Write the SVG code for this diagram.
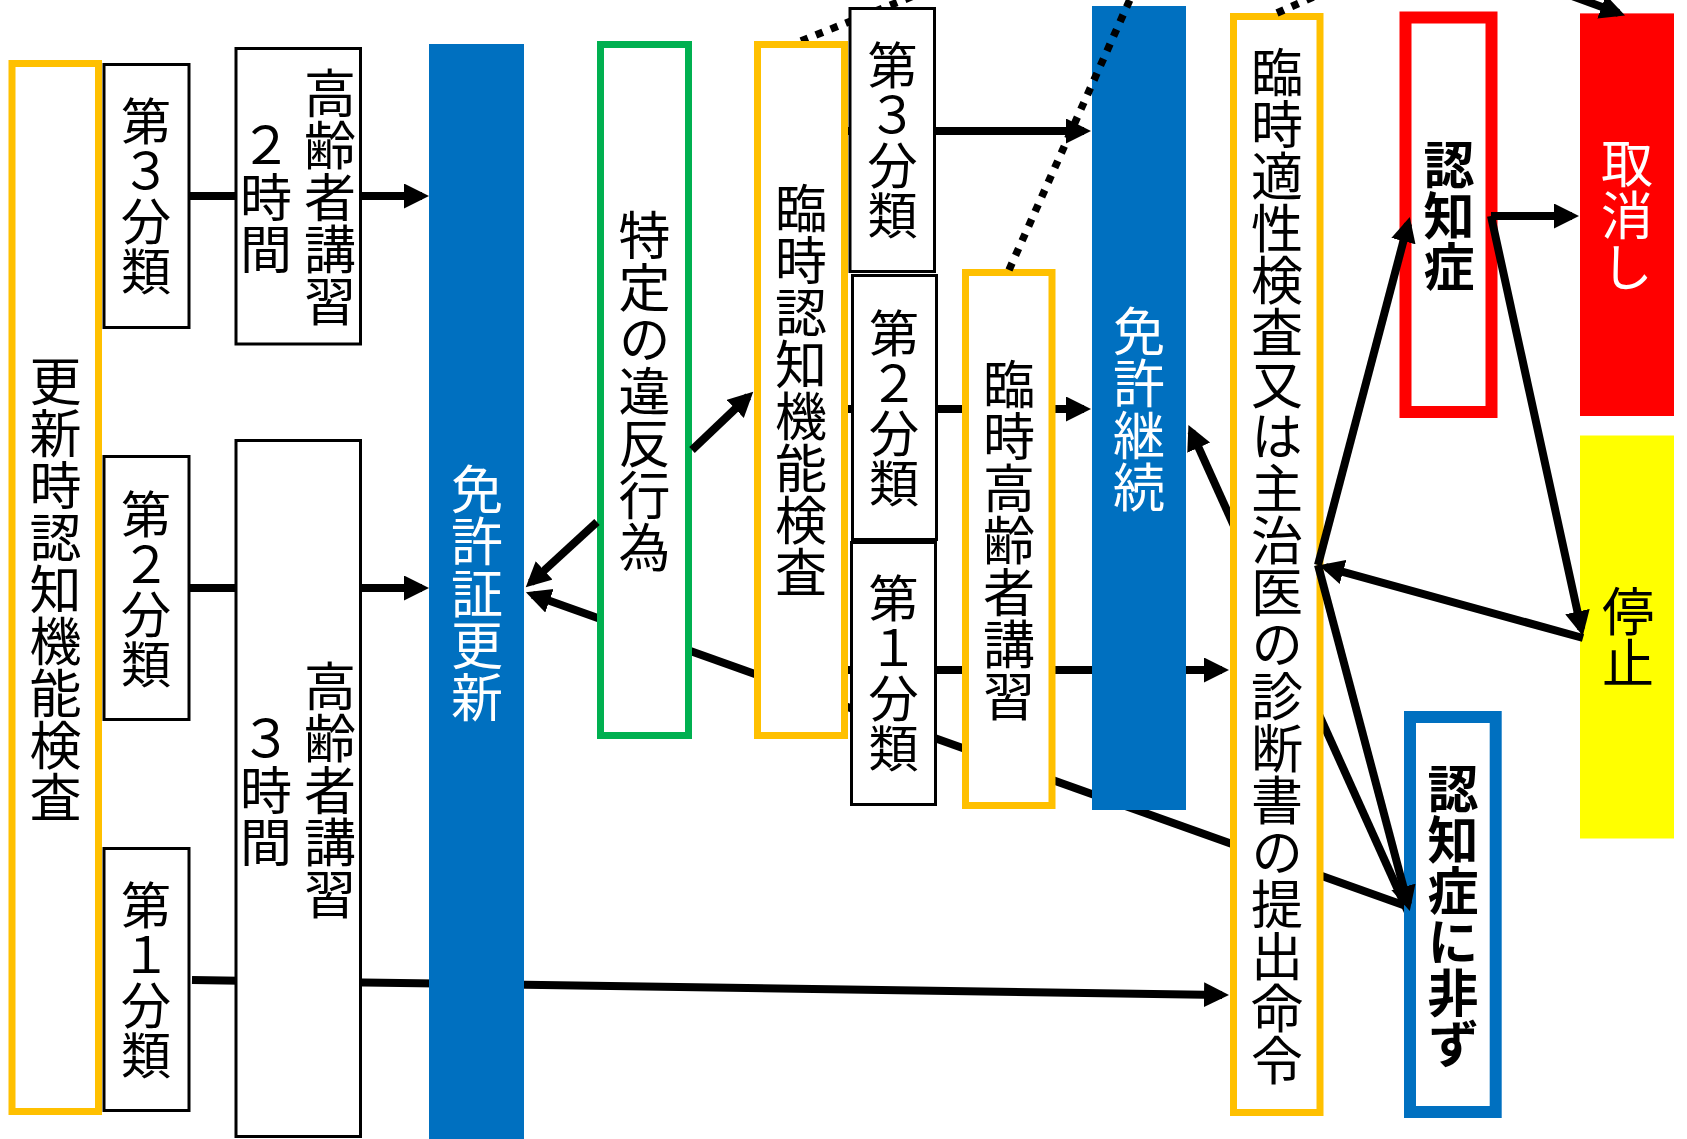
<svg xmlns="http://www.w3.org/2000/svg" width="1687" height="1139" viewBox="0 0 1687 1139">
<style>
.v{writing-mode:vertical-rl;text-orientation:upright;text-anchor:middle;font-family:"Noto Sans CJK JP","Noto Sans CJK SC",sans-serif;font-size:52px;fill:#000}
.b{font-weight:bold;font-size:51px}
.w{fill:#fff}
.s{font-size:50px}
.bk{fill:#fff;stroke:#000;stroke-width:3}
.yl{fill:#fff;stroke:#FFC000;stroke-width:7}
.gr{fill:#fff;stroke:#00B050;stroke-width:7}
.ln{fill:none;stroke:#000;stroke-width:8}
.dt{fill:none;stroke:#000;stroke-width:7.5;stroke-dasharray:7.5 8.5}
</style>
<defs>
<marker id="ah" markerUnits="userSpaceOnUse" markerWidth="26" markerHeight="26" viewBox="0 0 26 26" refX="18" refY="12.5" orient="auto"><path d="M0,0 L25,12.5 L0,25 z" fill="#000"/></marker>
</defs>
<rect width="1687" height="1139" fill="#fff"/>

<g id="connectors-back">
<line class="ln" x1="190" y1="196" x2="422" y2="196" marker-end="url(#ah)"/>
<line class="ln" x1="190" y1="588" x2="422" y2="588" marker-end="url(#ah)"/>
<line class="ln" x1="192" y1="980" x2="1222" y2="994.9" marker-end="url(#ah)"/>
<line class="ln" x1="1406" y1="906" x2="532.5" y2="594.7" marker-end="url(#ah)"/>
<line class="ln" x1="846" y1="131" x2="1084" y2="131" marker-end="url(#ah)"/>
<line class="ln" x1="846" y1="409" x2="1084" y2="409" marker-end="url(#ah)"/>
<line class="ln" x1="846" y1="670" x2="1222" y2="670" marker-end="url(#ah)"/>
<line class="ln" x1="1408" y1="912" x2="1191.3" y2="431.3" marker-end="url(#ah)"/>
<line class="dt" x1="801" y1="41" x2="916" y2="-5"/>
</g>

<g id="n-koushin">
<rect class="yl" x="12" y="63.5" width="86.5" height="1048"/>
<text class="v" x="55.5" y="589">更新時認知機能検査</text>
</g>
<g id="n-l3">
<rect class="bk" x="104" y="64.5" width="85" height="263"/>
<text class="v s" x="146" y="196">第３分類</text>
</g>
<g id="n-l2">
<rect class="bk" x="104" y="456.5" width="85" height="263"/>
<text class="v s" x="146" y="589">第２分類</text>
</g>
<g id="n-l1">
<rect class="bk" x="104" y="848.5" width="85" height="262"/>
<text class="v s" x="146" y="980">第１分類</text>
</g>
<g id="n-kosyu2">
<rect class="bk" x="236" y="48.5" width="124.5" height="295.5"/>
<text class="v" x="330" y="197">高齢者講習</text>
<text class="v" x="266" y="197">２時間</text>
</g>
<g id="n-kosyu3">
<rect class="bk" x="236" y="440.5" width="124.5" height="696"/>
<text class="v" x="330" y="790">高齢者講習</text>
<text class="v" x="266" y="790">３時間</text>
</g>
<g id="n-koushin-menkyo">
<rect x="429" y="44" width="95" height="1095" fill="#0070C0"/>
<text class="v w" x="477" y="593">免許証更新</text>
</g>
<g id="n-ihan">
<rect class="gr" x="600.5" y="44.5" width="88" height="691"/>
<text class="v" x="644.5" y="391">特定の違反行為</text>
</g>
<g id="n-rinji-ninchi">
<rect class="yl" x="757.5" y="44.5" width="87" height="691"/>
<text class="v" x="801" y="390">臨時認知機能検査</text>
</g>
<g id="n-m3">
<rect class="bk" x="850" y="8.5" width="84.5" height="263"/>
<text class="v s" x="892.5" y="140">第３分類</text>
</g>
<g id="n-m2">
<rect class="bk" x="852.5" y="275.5" width="84" height="264"/>
<text class="v s" x="894" y="408">第２分類</text>
</g>
<g id="n-m1">
<rect class="bk" x="851.5" y="542.5" width="84" height="262"/>
<text class="v s" x="893.5" y="673">第１分類</text>
</g>
<g id="n-rinji-kosyu">
<rect class="yl" x="965.5" y="272.5" width="86.5" height="533"/>
<text class="v" x="1009" y="540">臨時高齢者講習</text>
</g>
<g id="n-keizoku">
<rect x="1092" y="6" width="94" height="804" fill="#0070C0"/>
<text class="v w" x="1139" y="409">免許継続</text>
</g>
<g id="n-tekisei">
<rect class="yl" x="1233.5" y="16.5" width="86.5" height="1096"/>
<text class="v" x="1277" y="566">臨時適性検査又は主治医の診断書の提出命令</text>
</g>
<g id="n-ninchisho">
<rect x="1405.5" y="17.5" width="86" height="394.5" fill="#fff" stroke="#FF0000" stroke-width="12"/>
<text class="v b" x="1449" y="216">認知症</text>
</g>
<g id="n-hizu">
<rect x="1410" y="717" width="85.7" height="395" fill="#fff" stroke="#0070C0" stroke-width="12"/>
<text class="v b" x="1453" y="916">認知症に非ず</text>
</g>
<g id="n-torikeshi">
<rect x="1580" y="13.4" width="94" height="402.6" fill="#FF0000"/>
<text class="v w" x="1627" y="215">取消し</text>
</g>
<g id="n-teishi">
<rect x="1580" y="435.5" width="94" height="403" fill="#FFFF00"/>
<text class="v" x="1628" y="637">停止</text>
</g>

<g id="connectors-front">
<line class="ln" x1="597" y1="522" x2="530.9" y2="582.6" marker-end="url(#ah)"/>
<line class="ln" x1="692" y1="450" x2="748.2" y2="396.5" marker-end="url(#ah)"/>
<line class="ln" x1="1318" y1="565" x2="1408" y2="904.3" marker-end="url(#ah)"/>
<line class="ln" x1="1318" y1="565" x2="1408" y2="223.7" marker-end="url(#ah)"/>
<line class="ln" x1="1491" y1="216" x2="1572" y2="216" marker-end="url(#ah)"/>
<line class="ln" x1="1491" y1="216" x2="1581.3" y2="629.2" marker-end="url(#ah)"/>
<line class="ln" x1="1583" y1="638" x2="1325.7" y2="567.1" marker-end="url(#ah)"/>
<line class="ln" x1="1572" y1="-4" x2="1618.5" y2="13" marker-end="url(#ah)"/>
<line class="dt" x1="1009" y1="270" x2="1132" y2="-5"/>
<line class="dt" x1="1277" y1="13" x2="1320" y2="-6"/>
</g>
</svg>
